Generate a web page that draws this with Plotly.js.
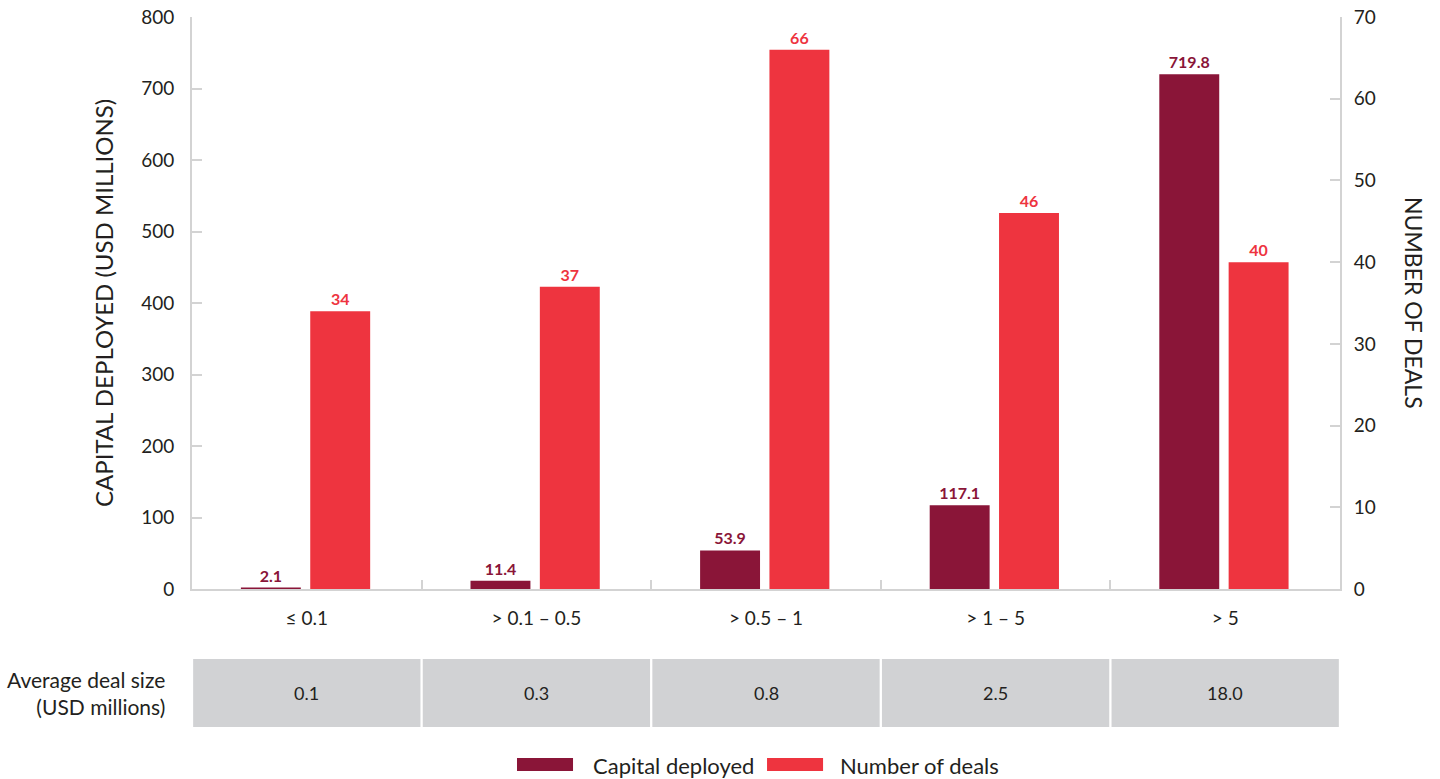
<!DOCTYPE html>
<html>
<head>
<meta charset="utf-8">
<script src="https://cdn.plot.ly/plotly-3.0.1.min.js"></script>
<style>html,body{margin:0;padding:0;background:#fff;}#chart{width:1440px;height:779px;}</style>
</head>
<body>
<div id="chart"></div>
<script>
const categories = ["≤ 0.1", "> 0.1 – 0.5", "> 0.5 – 1", "> 1 – 5", "> 5"];
const capitalDeployed = [2.1, 11.4, 53.9, 117.1, 719.8];
const numberOfDeals = [34, 37, 66, 46, 40];
const avgDealSize = ["0.1", "0.3", "0.8", "2.5", "18.0"];
const leftTicks = [0, 100, 200, 300, 400, 500, 600, 700, 800];
const rightTicks = [0, 10, 20, 30, 40, 50, 60, 70];

const MAROON = "#8A1538";
const RED = "#EE343F";
const GREY = "#D1D2D4";
const AXIS = "#D3D3D3";
const TXT = "#231F20";
const FONT = "Lato, 'Open Sans', sans-serif";

const traces = [
  {
    type: "bar", name: "Capital deployed", x: categories, y: capitalDeployed,
    yaxis: "y", marker: {color: MAROON}, width: 0.261, offset: -0.287,
    text: capitalDeployed.map(v => v.toFixed(1)), textposition: "outside",
    textfont: {family: FONT, size: 16, color: MAROON, weight: 700},
    cliponaxis: false, hoverinfo: "x+y"
  },
  {
    type: "bar", name: "Number of deals", x: categories, y: numberOfDeals,
    yaxis: "y2", marker: {color: RED}, width: 0.261, offset: 0.015,
    text: numberOfDeals.map(String), textposition: "outside",
    textfont: {family: FONT, size: 16, color: RED, weight: 700},
    cliponaxis: false, hoverinfo: "x+y"
  }
];

const shapes = [];
const annotations = [];
avgDealSize.forEach((v, i) => {
  shapes.push({type: "rect", xref: "x", yref: "paper", x0: i - 0.5 + 0.005, x1: i + 0.5 - 0.005,
    y0: -0.2413, y1: -0.1224, fillcolor: GREY, line: {width: 0}, layer: "below"});
  annotations.push({xref: "x", yref: "paper", x: i, y: -0.1818, text: v, showarrow: false,
    font: {family: FONT, size: 18, color: TXT}, xanchor: "center", yanchor: "middle"});
});
annotations.push({xref: "paper", yref: "paper", x: -0.0218, y: -0.1818,
  text: "Average deal size<br>(USD millions)", showarrow: false, align: "right",
  xanchor: "right", yanchor: "middle", font: {family: FONT, size: 21, color: TXT}});
annotations.push({xref: "paper", yref: "paper", x: -0.0775, y: 0.5, textangle: -90,
  text: "CAPITAL DEPLOYED (USD MILLIONS)", showarrow: false,
  xanchor: "center", yanchor: "middle", font: {family: FONT, size: 24, color: TXT}});
annotations.push({xref: "paper", yref: "paper", x: 1.0645, y: 0.5, textangle: 90,
  text: "NUMBER OF DEALS", showarrow: false,
  xanchor: "center", yanchor: "middle", font: {family: FONT, size: 23, color: TXT}});

// custom legend
const legendItems = [
  {name: traces[0].name, color: MAROON, x0: 0.2831, x1: 0.3319, tx: 0.3476},
  {name: traces[1].name, color: RED, x0: 0.5009, x1: 0.5497, tx: 0.5627}
];
legendItems.forEach(it => {
  shapes.push({type: "rect", xref: "paper", yref: "paper", x0: it.x0, x1: it.x1,
    y0: -0.318, y1: -0.2955, fillcolor: it.color, line: {width: 0}});
  annotations.push({xref: "paper", yref: "paper", x: it.tx, y: -0.3077, text: it.name,
    showarrow: false, xanchor: "left", yanchor: "middle",
    font: {family: FONT, size: 22, color: TXT}});
});

const layout = {
  width: 1440, height: 779,
  margin: {l: 192, r: 100, t: 17, b: 190},
  paper_bgcolor: "#fff", plot_bgcolor: "#fff",
  showlegend: false,
  barmode: "group",
  font: {family: FONT, size: 18, color: TXT},
  xaxis: {
    type: "category", showgrid: false, zeroline: false,
    showline: true, linecolor: AXIS, linewidth: 2,
    ticks: "inside", tickson: "boundaries", ticklen: 9, tickcolor: AXIS, tickwidth: 2,
    tickfont: {family: FONT, size: 19, color: TXT}, ticklabelstandoff: 11
  },
  yaxis: {
    range: [0, 800], tickvals: leftTicks, showgrid: false, zeroline: false,
    showline: true, linecolor: AXIS, linewidth: 2,
    ticks: "inside", ticklen: 10, tickcolor: AXIS, tickwidth: 2,
    tickfont: {family: FONT, size: 19, color: TXT}, ticklabelstandoff: 12
  },
  yaxis2: {
    range: [0, 70], tickvals: rightTicks, overlaying: "y", side: "right",
    showgrid: false, zeroline: false,
    showline: true, linecolor: AXIS, linewidth: 2,
    ticks: "inside", ticklen: 10, tickcolor: AXIS, tickwidth: 2,
    tickfont: {family: FONT, size: 19, color: TXT}, ticklabelstandoff: 8
  },
  shapes: shapes,
  annotations: annotations
};

Plotly.newPlot("chart", traces, layout, {displayModeBar: false, staticPlot: true});
</script>
</body>
</html>
